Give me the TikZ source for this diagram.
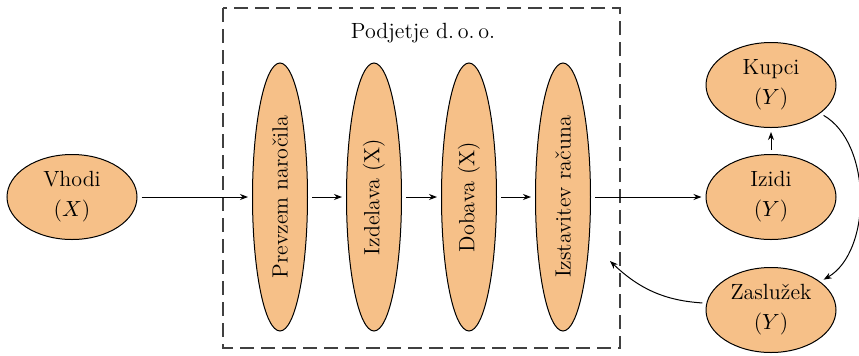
\documentclass[tikz,border=0pt]{standalone}
\usetikzlibrary{shapes.geometric,arrows.meta}
\definecolor{nodefill}{RGB}{246,192,136}
\begin{document}
\begin{tikzpicture}[x=0.5pt,y=-0.5pt,
  every node/.style={font=\fontsize{11}{15}\selectfont},
  ebox/.style={ellipse,draw=black,fill=nodefill,line width=0.5pt,inner sep=0pt,
    minimum width=65pt,minimum height=42.5pt,align=center},
  vbox/.style={ellipse,draw=black,fill=nodefill,line width=0.5pt,inner sep=0pt,
    minimum width=134pt,minimum height=27.5pt,rotate=90},
  arr/.style={-{Stealth[length=4pt,width=3pt]},line width=0.5pt,shorten <=2pt,shorten >=2pt},
  frame/.style={draw=black!75,line width=0.6pt,dash pattern=on 7pt off 3.5pt}]
\useasboundingbox (0,0) rectangle (859,355);
\draw[frame] (223,8) rectangle (620,348);
\node (firm) at (423,33) {Podjetje d.\,o.\,o.};
\node[ebox] (vhodi) at (72,197) {Vhodi\\($X$)};
\node[vbox] (p1) at (280,197) {Prevzem naročila};
\node[vbox] (p2) at (374,197) {Izdelava (X)};
\node[vbox] (p3) at (469,197) {Dobava (X)};
\node[vbox] (p4) at (563,197) {Izstavitev računa};
\node[ebox] (izidi) at (771,197) {Izidi\\($Y$)};
\node[ebox] (kupci) at (771,85) {Kupci\\($Y$)};
\node[ebox] (zas) at (771,310) {Zaslužek\\($Y$)};
\coordinate (ret) at (610,261);
\draw[arr] (vhodi) -- (p1);
\draw[arr] (p1) -- (p2);
\draw[arr] (p2) -- (p3);
\draw[arr] (p3) -- (p4);
\draw[arr] (p4) -- (izidi);
\draw[arr] (izidi) -- (kupci);
\draw[arr] (kupci.-30) .. controls +(-30:30pt) and +(30:30pt) .. (zas.30);
\draw[arr,shorten >=0pt] (zas.174) to[bend left=20] (ret);
\end{tikzpicture}
\end{document}
